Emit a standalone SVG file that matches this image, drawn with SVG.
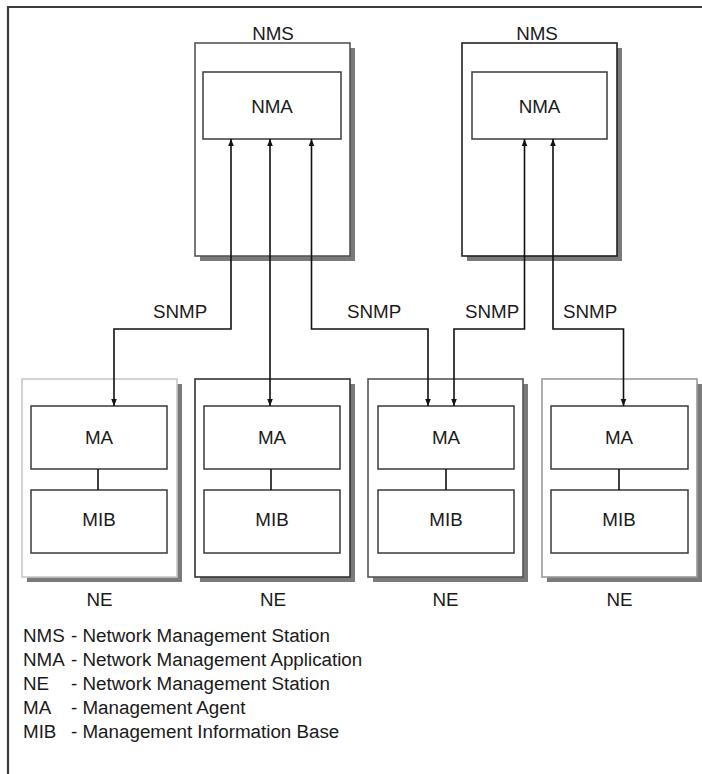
<svg xmlns="http://www.w3.org/2000/svg" width="702" height="774" viewBox="0 0 702 774">
<style>
text{font-family:"Liberation Sans",Arial,sans-serif;font-size:18.8px;fill:#1a1a1a}
.c{text-anchor:middle}
.sh{fill:#7a7a7a}
.ob{fill:#fff;stroke-width:1.6}
.ib{fill:#fff;stroke:#3a3a3a;stroke-width:1.5}
.ln{fill:none;stroke:#111;stroke-width:1.6}
.fr{fill:none;stroke:#3c3c3c;stroke-width:2.2}
</style>
<defs>
<marker id="ah" viewBox="0 0 10 10" refX="10" refY="5" markerWidth="7" markerHeight="9" markerUnits="userSpaceOnUse" orient="auto-start-reverse">
<path d="M0,1 L10,5 L0,9 z" fill="#111"/>
</marker>
</defs>
<g id="frame">
<path class="fr" d="M8,774 V7 H702"/>
</g>
<g id="nms1">
<rect class="sh" x="200" y="48" width="155" height="213"/>
<rect class="ob" x="195" y="43" width="155" height="213" stroke="#555"/>
<text class="c" x="273" y="40">NMS</text>
<g id="nma1">
<rect class="ib" x="203" y="72" width="138" height="67"/>
<text class="c" x="272" y="113">NMA</text>
</g>
</g>
<g id="nms2">
<rect class="sh" x="467" y="48" width="155" height="213"/>
<rect class="ob" x="462" y="43" width="155" height="213" stroke="#222"/>
<text class="c" x="537" y="40">NMS</text>
<g id="nma2">
<rect class="ib" x="472" y="72" width="135" height="67"/>
<text class="c" x="539.5" y="113">NMA</text>
</g>
</g>
<g id="ne1">
<rect class="sh" x="27" y="384" width="155" height="198"/>
<rect class="ob" x="22" y="379" width="155" height="198" stroke="#c8c8c8"/>
<rect class="ib" x="31" y="406" width="136" height="63"/>
<text class="c" x="99" y="444">MA</text>
<rect class="ib" x="31" y="490" width="136" height="63"/>
<text class="c" x="99" y="526">MIB</text>
<text class="c" x="99.5" y="606">NE</text>
</g>
<g id="ne2">
<rect class="sh" x="200" y="384" width="155" height="198"/>
<rect class="ob" x="195" y="379" width="155" height="198" stroke="#333"/>
<rect class="ib" x="204" y="406" width="136" height="63"/>
<text class="c" x="272" y="444">MA</text>
<rect class="ib" x="204" y="490" width="136" height="63"/>
<text class="c" x="272" y="526">MIB</text>
<text class="c" x="273" y="606">NE</text>
</g>
<g id="ne3">
<rect class="sh" x="373" y="384" width="155" height="198"/>
<rect class="ob" x="368" y="379" width="155" height="198" stroke="#555"/>
<rect class="ib" x="378" y="406" width="136" height="63"/>
<text class="c" x="446" y="444">MA</text>
<rect class="ib" x="378" y="490" width="136" height="63"/>
<text class="c" x="446" y="526">MIB</text>
<text class="c" x="445.5" y="606">NE</text>
</g>
<g id="ne4">
<rect class="sh" x="547" y="384" width="155" height="198"/>
<rect class="ob" x="542" y="379" width="155" height="198" stroke="#9a9a9a"/>
<rect class="ib" x="551" y="406" width="137" height="63"/>
<text class="c" x="619" y="444">MA</text>
<rect class="ib" x="551" y="490" width="137" height="63"/>
<text class="c" x="619" y="526">MIB</text>
<text class="c" x="619.5" y="606">NE</text>
</g>
<g id="connectors">
<path class="ln" d="M98,469 V490"/>
<path class="ln" d="M271,469 V490"/>
<path class="ln" d="M446,469 V490"/>
<path class="ln" d="M619,469 V490"/>
<path class="ln" d="M231,139 V329 H114 V406" marker-start="url(#ah)" marker-end="url(#ah)"/>
<path class="ln" d="M270,139 V406" marker-start="url(#ah)" marker-end="url(#ah)"/>
<path class="ln" d="M311.5,139 V329 H428 V406" marker-start="url(#ah)" marker-end="url(#ah)"/>
<path class="ln" d="M524.5,139 V329 H454 V406" marker-start="url(#ah)" marker-end="url(#ah)"/>
<path class="ln" d="M553,139 V329 H623.5 V406" marker-start="url(#ah)" marker-end="url(#ah)"/>
<text x="153" y="318">SNMP</text>
<text x="347" y="318">SNMP</text>
<text x="465" y="318">SNMP</text>
<text x="563" y="318">SNMP</text>
</g>
<g id="legend">
<text x="23" y="642">NMS</text><text x="71" y="642">- Network Management Station</text>
<text x="23" y="666">NMA</text><text x="71" y="666">- Network Management Application</text>
<text x="23" y="690">NE</text><text x="71" y="690">- Network Management Station</text>
<text x="23" y="714">MA</text><text x="71" y="714">- Management Agent</text>
<text x="23" y="738">MIB</text><text x="71" y="738">- Management Information Base</text>
</g>
</svg>
